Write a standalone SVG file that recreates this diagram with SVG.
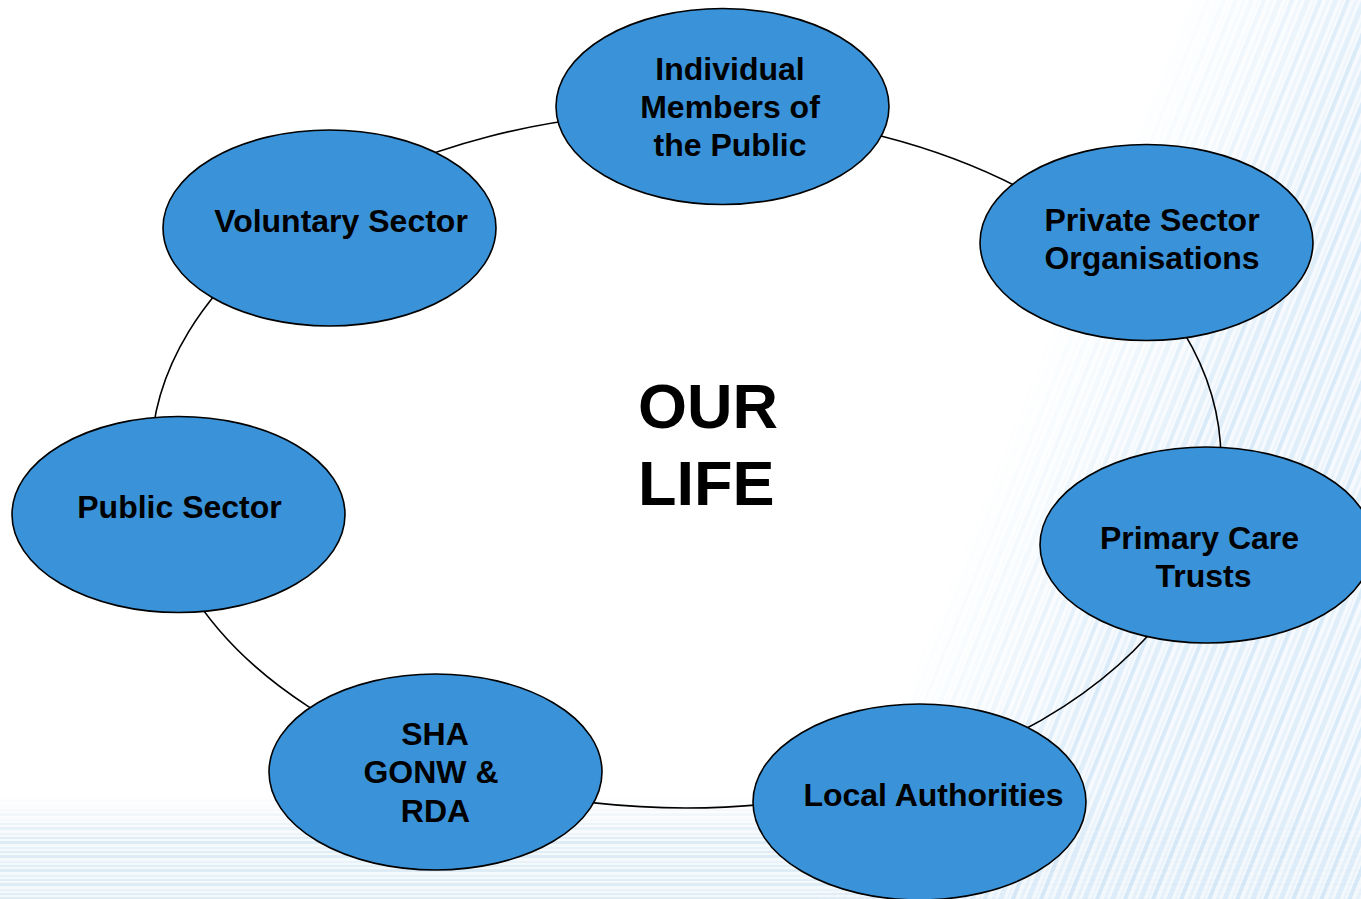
<svg xmlns="http://www.w3.org/2000/svg" width="1361" height="899" viewBox="0 0 1361 899">
  <style>
    .node { fill: #3a93d8; stroke: #000; stroke-width: 1.6; }
    .lbl { font-family: "Liberation Sans", Arial, sans-serif; font-weight: bold; font-size: 32px; fill: #000; text-anchor: middle; }
    .big { font-family: "Liberation Sans", Arial, sans-serif; font-weight: bold; font-size: 63px; fill: #000; }
    .ring { fill: none; stroke: #000; stroke-width: 1.6; }
  </style>
  <defs>
    <pattern id="diag" width="26" height="40" patternUnits="userSpaceOnUse" patternTransform="rotate(22)">
      <rect x="0" y="0" width="26" height="40" fill="#f5f9fd"/>
      <rect x="0" y="0" width="4" height="40" fill="#d3e7f7"/>
      <rect x="8" y="0" width="3" height="40" fill="#e4f0fa"/>
      <rect x="14" y="0" width="5" height="40" fill="#dbecf9"/>
      <rect x="22" y="0" width="2" height="40" fill="#e9f3fb"/>
    </pattern>
    <pattern id="horiz" width="300" height="14" patternUnits="userSpaceOnUse">
      <rect x="0" y="0" width="300" height="14" fill="#f3f8fc"/>
      <rect x="0" y="1" width="300" height="3" fill="#d9e9f5"/>
      <rect x="0" y="7" width="300" height="2" fill="#e6f0f8"/>
      <rect x="0" y="11" width="300" height="2" fill="#dcebf6"/>
    </pattern>
    <linearGradient id="gDiag" gradientUnits="userSpaceOnUse" x1="1000" y1="444" x2="1170" y2="514">
      <stop offset="0" stop-color="#000"/>
      <stop offset="1" stop-color="#fff"/>
    </linearGradient>
    <linearGradient id="gHor" gradientUnits="userSpaceOnUse" x1="0" y1="795" x2="0" y2="840">
      <stop offset="0" stop-color="#000"/>
      <stop offset="1" stop-color="#fff"/>
    </linearGradient>
    <mask id="mDiag">
      <rect x="0" y="0" width="1361" height="899" fill="url(#gDiag)"/>
    </mask>
    <mask id="mHor">
      <rect x="0" y="0" width="1361" height="899" fill="url(#gHor)"/>
    </mask>
  </defs>

  <rect x="0" y="0" width="1361" height="899" fill="#ffffff"/>
  <g id="background">
    <rect x="0" y="780" width="1361" height="119" fill="url(#horiz)" mask="url(#mHor)" opacity="0.85"/>
    <rect x="700" y="0" width="661" height="899" fill="url(#diag)" mask="url(#mDiag)" opacity="0.85"/>
  </g>

  <g id="connectors">
    <ellipse class="ring" cx="686" cy="460" rx="535" ry="348"/>
  </g>

  <g id="node-individual">
    <ellipse class="node" cx="722.5" cy="106.5" rx="166.5" ry="98"/>
    <text class="lbl" x="730" y="80">Individual</text>
    <text class="lbl" x="730" y="118">Members of</text>
    <text class="lbl" x="730" y="156">the Public</text>
  </g>
  <g id="node-voluntary">
    <ellipse class="node" cx="329.5" cy="228" rx="166.5" ry="98"/>
    <text class="lbl" x="341" y="232">Voluntary Sector</text>
  </g>
  <g id="node-private">
    <ellipse class="node" cx="1146.5" cy="242.5" rx="166.5" ry="98"/>
    <text class="lbl" x="1152" y="230.5">Private Sector</text>
    <text class="lbl" x="1152" y="268.5">Organisations</text>
  </g>
  <g id="node-public">
    <ellipse class="node" cx="178.5" cy="514.5" rx="166.5" ry="98"/>
    <text class="lbl" x="179.5" y="518">Public Sector</text>
  </g>
  <g id="node-pct">
    <ellipse class="node" cx="1206.5" cy="545" rx="166.5" ry="98"/>
    <text class="lbl" x="1199.5" y="549">Primary Care</text>
    <text class="lbl" x="1203.5" y="587">Trusts</text>
  </g>
  <g id="node-sha">
    <ellipse class="node" cx="435.5" cy="772" rx="166.5" ry="98"/>
    <text class="lbl" x="435" y="745">SHA</text>
    <text class="lbl" x="431" y="783">GONW &amp;</text>
    <text class="lbl" x="435.5" y="822">RDA</text>
  </g>
  <g id="node-local">
    <ellipse class="node" cx="919.5" cy="802" rx="166.5" ry="98"/>
    <text class="lbl" x="933.5" y="806">Local Authorities</text>
  </g>

  <g id="center-title">
    <text class="big" x="638" y="428">OUR</text>
    <text class="big" x="638" y="505">LIFE</text>
  </g>
</svg>
